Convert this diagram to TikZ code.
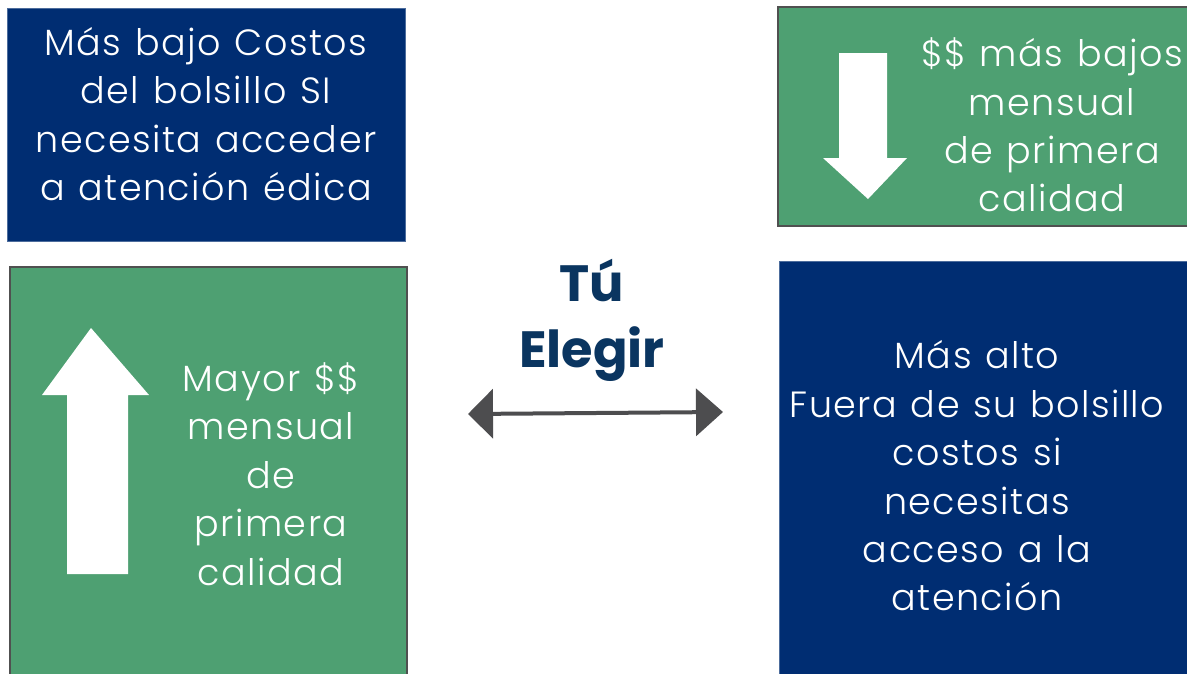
\documentclass[tikz,border=0pt]{standalone}
\usepackage{fontspec}
\setmainfont{Poppins Light}[BoldFont=Poppins Bold]
\newfontfamily\boxfont{Poppins Light}[LetterSpace=4,WordSpace=1.2]
\usetikzlibrary{arrows.meta}
\definecolor{boxblue}{RGB}{0,45,114}
\definecolor{boxgreen}{RGB}{78,160,114}
\definecolor{titleblue}{RGB}{10,53,96}
\definecolor{arrowgray}{RGB}{77,77,79}
\definecolor{edgegray}{RGB}{80,80,80}
\begin{document}
\begin{tikzpicture}[x=1pt,y=-1pt,
  panel/.style={rectangle, inner sep=0pt, outer sep=0pt, anchor=north west},
  bluepanel/.style={panel, fill=boxblue, draw=boxblue!70!white, line width=0.6pt},
  greenpanel/.style={panel, fill=boxgreen, draw=edgegray, line width=1.2pt},
  boxtext/.style={text=white, align=center, inner sep=0pt, font=\boxfont\fontsize{36.5}{48.4}\selectfont},
  titletext/.style={text=titleblue, align=center, inner sep=0pt, font=\fontsize{51}{66}\selectfont\bfseries},
  bigarrow/.style={fill=white, draw=none},
  choice/.style={draw=arrowgray, line width=4pt, {Triangle[length=25pt,width=49pt]}-{Triangle[length=27pt,width=47pt]}}
]
\useasboundingbox (0,0) rectangle (1187,673);
\clip (0,0) rectangle (1187,673);
\fill[white] (0,0) rectangle (1187,673);

% panels
\node[bluepanel, minimum width=398pt, minimum height=233pt] (tl) at (7,8) {};
\node[greenpanel, minimum width=420pt, minimum height=219pt] (tr) at (778,7) {};
\node[greenpanel, minimum width=397pt, minimum height=420pt] (bl) at (10,267) {};
\node[bluepanel, minimum width=420pt, minimum height=420pt] (br) at (779,261) {};

% white block arrows
\filldraw[bigarrow] (67,574) -- (67,395) -- (42,395) -- (91,328) -- (149,395) -- (128,395) -- (128,574) -- cycle;
\filldraw[bigarrow] (839,53) -- (887,53) -- (887,158) -- (907,158) -- (868,199) -- (823,158) -- (839,158) -- cycle;

% texts
\node[boxtext] (tltext) at (206,114) {Más bajo Costos\\del bolsillo SI\\necesita acceder\\a atención édica};
\node[boxtext] (trtext) at (1052,125) {\$\$ más bajos\\mensual\\de primera\\calidad};
\node[boxtext] (bltext) at (271,474) {Mayor \$\$\\mensual\\de\\primera\\calidad};
\node[boxtext] (brtext) at (977,476) {Más alto\\Fuera de su bolsillo\\costos si\\necesitas\\acceso a la\\atención};
\node[titletext] (title) at (592,320) {Tú\\Elegir};

% double arrow
\coordinate (left) at (468,414);
\coordinate (right) at (723,412);
\draw[choice] (left) -- (right);
\end{tikzpicture}
\end{document}
